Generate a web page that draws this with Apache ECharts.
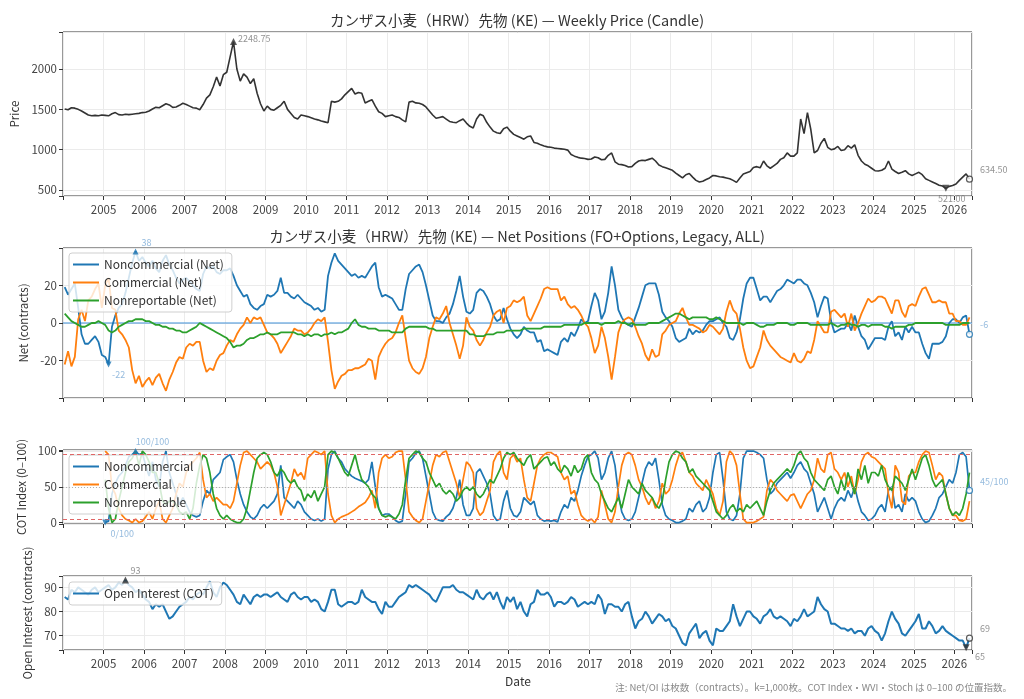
<!DOCTYPE html>
<html>
<head>
<meta charset="utf-8">
<script src="https://cdn.jsdelivr.net/npm/echarts@6/dist/echarts.min.js"></script>
<style>
  html, body { margin: 0; padding: 0; background: #fff; }
  #chart { width: 1024px; height: 699px; }
</style>
</head>
<body>
<div id="chart"></div>
<script>
// monthly samples, Jan 2004 .. May 2026
const startYear = 2004
const cotStart = 12 // COT index begins Jan 2005

const price = [
  1505, 1495, 1520, 1515, 1500, 1480, 1455, 1430, 1420, 1425, 1420, 1430,
  1425, 1420, 1445, 1460, 1435, 1430, 1440, 1435, 1440, 1445, 1450, 1460,
  1465, 1480, 1505, 1525, 1520, 1545, 1570, 1555, 1525, 1530, 1550, 1575,
  1560, 1540, 1520, 1515, 1495, 1560, 1640, 1680, 1780, 1900, 1790, 1930,
  1960, 2150, 2340, 2000, 1850, 1940, 1900, 1820, 1880, 1700, 1570, 1480,
  1540, 1500, 1490, 1520, 1550, 1600, 1500, 1450, 1400, 1380, 1430, 1420,
  1410, 1395, 1380, 1370, 1355, 1345, 1335, 1600, 1590, 1600, 1630, 1680,
  1720, 1760, 1690, 1710, 1700, 1580, 1600, 1620, 1540, 1470, 1450, 1410,
  1420, 1430, 1410, 1400, 1370, 1345, 1590, 1600, 1580, 1575, 1560, 1530,
  1480, 1430, 1390, 1400, 1410, 1380, 1350, 1340, 1335, 1360, 1380, 1330,
  1290, 1270, 1380, 1440, 1420, 1340, 1280, 1230, 1210, 1200, 1260, 1280,
  1230, 1190, 1170, 1150, 1130, 1160, 1170, 1090, 1080, 1060, 1045, 1035,
  1030, 1020, 1015, 1010, 1005, 995, 940, 920, 905, 895, 890, 880,
  885, 910, 900, 875, 880, 930, 960, 850, 820, 815, 805, 785,
  790, 830, 860, 870, 865, 880, 895, 860, 810, 790, 775, 760,
  745, 710, 680, 650, 690, 705, 660, 620, 600, 610, 630, 650,
  680, 675, 665, 660, 650, 640, 620, 595, 650, 700, 715, 730,
  780, 790, 775, 860, 800, 770, 800, 830, 880, 900, 960, 920,
  920, 960, 1380, 1200, 1460, 1250, 960, 990, 1080, 1140, 1030, 1000,
  1010, 1040, 990, 1000, 1050, 1020, 1060, 930, 860, 820, 800, 770,
  740, 735, 745, 770, 860, 760, 730, 705, 720, 740, 700, 680,
  700, 720, 690, 640, 620, 600, 580, 560, 550, 521, 545, 555,
  575, 620, 660, 700, 634.5
]
const peakCloseLabel = '2248.75'

const netNc = [
  19, 15, 18, 21, 8, -6, -11, -11, -9, -7, -10, -17,
  -18, -22, -2, 4, 8, 10, 16, 24, 32, 38, 33, 35,
  32, 30, 33, 29, 27, 33, 36, 31, 28, 24, 21, 23,
  24, 22, 20, 18, 17, 26, 30, 29, 30, 27, 26, 28,
  28, 29, 25, 20, 17, 14, 15, 10, 8, 7, 9, 10,
  15, 14, 15, 17, 24, 16, 16, 14, 13, 15, 13, 11,
  10, 9, 7, 8, 6, 7, 25, 32, 37, 33, 31, 29,
  27, 25, 26, 24, 25, 24, 27, 30, 32, 19, 14, 15,
  14, 13, 10, 7, 7, 18, 26, 28, 30, 31, 27, 20,
  12, 4, 1, 1, 0, 3, 5, 10, 17, 25, 14, 6,
  5, 7, 16, 18, 17, 14, 10, 4, 1, 2, 8, 2,
  -3, -6, -8, -6, -2, -4, -5, -5, -10, -9, -15, -14,
  -15, -16, -17, -10, -8, -10, -5, -7, -3, 2, 0, 1,
  9, 16, 12, 2, 6, 16, 30, 20, 7, 3, 0, -1,
  -2, 3, 8, 14, 20, 21, 21, 21, 15, 6, 3, 1,
  -2, -8, -10, -9, -8, -3, -6, -4, -5, -4, -1, 1,
  1, 2, 3, 0, -2, -8, -9, -5, 2, 13, 21, 24,
  24, 18, 12, 14, 14, 11, 14, 17, 18, 20, 23, 22,
  21, 23, 23, 21, 20, 16, 11, 3, 9, 14, 13, 1,
  -5, -4, -3, -3, 0, -4, 4, -2, -7, -9, -14, -11,
  -8, -8, -8, -9, -2, 1, -7, -5, -9, -2, -5, -2,
  -5, -5, -11, -16, -19, -11, -11, -11, -10, -7, 0, 2,
  2, 0, 3, 4, -6
]
const netC = [
  -22, -15, -23, -18, 2, 7, 1, 12, 14, 18, 21, 8,
  20, 24, 8, 7, -4, -6, -9, -13, -25, -32, -28, -34,
  -31, -29, -33, -29, -27, -32, -36, -30, -26, -21, -18, -19,
  -13, -11, -12, -10, -10, -20, -26, -24, -25, -20, -17, -16,
  -12, -9, -10, -6, -3, -1, 3, 0, 3, 2, 3, -1,
  -5, -6, -8, -11, -16, -13, -10, -7, -3, -4, -4, -6,
  -5, -3, 0, 2, 1, 3, -10, -25, -35, -31, -28, -27,
  -25, -25, -24, -24, -23, -22, -19, -20, -30, -18, -14, -11,
  -9, -8, -5, 0, 4, -8, -20, -24, -26, -27, -24, -18,
  -8, -2, 3, 2, 5, 9, 0, -6, -12, -19, -12, 3,
  -2, -4, -9, -12, -9, -5, -2, 4, 6, 7, 0, 8,
  9, 12, 11, 12, 14, 4, 1, 5, 9, 13, 18, 19,
  18, 18, 18, 12, 14, 10, 8, 9, 7, 4, 0, -2,
  -8, -16, -12, -2, -8, -18, -30, -18, -5, 0, 2, 3,
  2, -2, -7, -11, -17, -20, -14, -18, -17, -6, -4, -1,
  0, 1, 5, 8, 3, -1, -1, -2, -3, -5, -4, -1,
  -2, -4, -6, -3, 6, 12, 7, 5, -3, -13, -20, -24,
  -23, -18, -13, -4, -9, -12, -14, -16, -18, -19, -20, -21,
  -16, -20, -21, -19, -15, -16, -9, 1, -2, -5, -5, 6,
  7, 5, 3, 5, -2, 5, -4, 0, 5, 9, 13, 11,
  12, 14, 14, 13, 9, 5, 12, 12, 6, 3, 9, 10,
  9, 14, 18, 19, 15, 11, 11, 12, 11, 11, 5, 5,
  1, 1, -1, -1, 3
]
const netNr = [
  5, 3, 1, 0, -1, -2, -2, -1, 0, 0, 1, 0,
  -1, -4, -5, -4, -2, -1, 0, 1, 1, 2, 2, 2,
  1, 1, 0, -1, -1, -2, -2, -3, -3, -4, -4, -5,
  -5, -4, -3, -2, 0, -1, -2, -3, -4, -5, -6, -7,
  -8, -10, -13, -12, -12, -11, -9, -8, -8, -7, -6, -6,
  -5, -6, -6, -6, -5, -5, -5, -5, -5, -6, -6, -7,
  -6, -7, -6, -6, -7, -6, -6, -5, -6, -5, -5, -4,
  -3, 0, 2, -1, -2, -2, -3, -3, -3, -4, -4, -4,
  -4, -5, -5, -5, -5, -3, -2, -2, -2, -2, -2, -2,
  -3, -3, -4, -4, -4, -4, -4, -4, -4, -4, -4, -4,
  -6, -6, -7, -7, -7, -6, -6, -6, -5, -5, -5, -4,
  -4, -4, -4, -4, -3, -3, -3, -3, -3, -3, -2, -2,
  -2, -2, -2, -2, -1, -1, -1, -1, -1, -1, 0, 0,
  0, 0, 0, -1, 0, 0, 0, 0, 1, 0, 0, -1,
  0, -1, -1, -1, -1, 0, 0, 0, 0, 1, 2, 3,
  4, 5, 5, 4, 3, 2, 3, 3, 3, 3, 3, 2,
  2, 3, 2, 1, 0, 0, 0, 0, 0, -1, 0, 0,
  0, -1, -2, -2, -1, -1, -1, 0, 0, 0, 0, -1,
  -1, 0, 0, 0, 0, -1, -1, -1, -1, -1, -1, 0,
  -1, -2, -1, -1, 0, -1, -1, -2, -1, -1, -2, -1,
  -1, -1, -1, -2, -2, -3, -2, -2, -2, -2, -1, -1,
  0, 0, 0, 0, 0, 0, 0, 0, 0, -1, -1, -1,
  -1, -1, 0, 0, 0
]

// COT index (0-100), from Jan 2005
const cotNc = [
  0, 2, 40, 55, 65, 70, 80, 92, 95, 100, 95, 97,
  80, 65, 85, 60, 50, 85, 100, 70, 55, 40, 25, 35,
  25, 15, 10, 8, 10, 30, 45, 40, 60, 65, 70, 88,
  92, 95, 85, 60, 40, 25, 15, 8, 5, 10, 20, 25,
  20, 25, 30, 40, 80, 35, 30, 25, 20, 30, 25, 15,
  10, 5, 3, 5, 2, 5, 75, 95, 100, 90, 85, 75,
  70, 65, 62, 60, 58, 55, 60, 85, 50, 20, 10, 12,
  12, 8, 3, 0, 2, 40, 85, 90, 97, 100, 90, 65,
  40, 15, 5, 3, 2, 8, 12, 20, 35, 60, 25, 10,
  10, 20, 70, 75, 65, 55, 40, 10, 3, 5, 30, 45,
  20, 10, 8, 15, 35, 30, 25, 30, 10, 5, 2, 3,
  2, 3, 1, 15, 25, 20, 35, 30, 45, 65, 80, 92,
  95, 100, 90, 60, 70, 90, 100, 80, 40, 15, 5, 3,
  5, 15, 35, 55, 75, 85, 80, 90, 60, 25, 10, 5,
  3, 0, 0, 2, 5, 20, 15, 25, 30, 15, 20, 35,
  70, 95, 98, 60, 15, 5, 3, 10, 40, 90, 100, 100,
  100, 98, 95, 90, 60, 40, 45, 55, 60, 65, 70, 62,
  70, 80, 85, 75, 70, 55, 40, 15, 25, 35, 20, 5,
  20, 30, 35, 30, 45, 35, 50, 30, 15, 10, 3, 5,
  10, 20, 25, 15, 45, 50, 20, 25, 15, 40, 30, 35,
  30, 15, 5, 0, 2, 10, 20, 35, 40, 50, 60, 55,
  70, 95, 98, 92, 45
]
const cotC = [
  100, 95, 50, 40, 20, 10, 5, 3, 0, 5, 0, 2,
  8, 15, 5, 20, 30, 5, 0, 10, 20, 40, 55, 50,
  70, 80, 85, 90, 98, 60, 35, 40, 30, 35, 30, 25,
  25, 20, 30, 55, 80, 98, 100, 95, 90, 85, 75, 80,
  85, 80, 70, 50, 10, 25, 40, 55, 75, 65, 70, 60,
  90, 95, 100, 98, 95, 100, 40, 10, 0, 5, 8, 10,
  12, 15, 18, 22, 25, 28, 35, 45, 20, 70, 90, 95,
  90, 92, 98, 100, 100, 60, 15, 8, 3, 0, 5, 30,
  55, 80, 95, 92, 98, 100, 85, 70, 55, 35, 60, 85,
  80, 70, 20, 10, 15, 30, 45, 85, 95, 100, 70, 60,
  90, 95, 85, 90, 60, 35, 30, 55, 80, 90, 95, 98,
  98, 95, 92, 70, 60, 65, 40, 45, 25, 10, 5, 2,
  5, 0, 8, 45, 25, 5, 0, 15, 50, 80, 95, 98,
  95, 80, 60, 50, 35, 25, 35, 20, 30, 55, 40, 45,
  60, 80, 95, 98, 85, 70, 65, 55, 50, 45, 60, 50,
  40, 20, 10, 30, 85, 100, 95, 80, 40, 5, 0, 0,
  0, 2, 5, 8, 45, 60, 55, 45, 40, 35, 30, 38,
  40, 30, 20, 30, 40, 45, 60, 90, 75, 70, 95, 98,
  75, 70, 60, 70, 50, 65, 40, 60, 85, 95, 98, 92,
  90, 85, 80, 75, 40, 20, 80, 70, 30, 25, 65, 70,
  70, 85, 95, 100, 98, 80, 60, 70, 65, 40, 20, 10,
  10, 3, 2, 5, 30
]
const cotNr = [
  60, 20, 0, 5, 30, 50, 70, 85, 90, 100, 80, 100,
  95, 85, 70, 70, 55, 30, 25, 30, 30, 25, 15, 12,
  15, 5, 20, 55, 80, 95, 90, 70, 40, 20, 10, 5,
  10, 5, 2, 0, 0, 5, 20, 45, 70, 90, 95, 98,
  95, 85, 70, 65, 75, 70, 60, 55, 60, 50, 45, 30,
  40, 35, 45, 30, 40, 50, 95, 100, 98, 90, 80, 70,
  65, 80, 95, 75, 60, 55, 50, 40, 35, 20, 10, 8,
  10, 8, 5, 12, 25, 60, 90, 95, 100, 98, 90, 85,
  70, 60, 50, 55, 45, 40, 45, 40, 30, 35, 45, 50,
  45, 50, 40, 35, 40, 50, 60, 55, 65, 75, 90, 98,
  95, 98, 90, 85, 80, 90, 95, 75, 80, 85, 90, 92,
  80, 85, 75, 70, 80, 75, 65, 80, 70, 75, 90, 95,
  70, 60, 55, 40, 30, 20, 15, 25, 35, 20, 40, 60,
  50, 45, 40, 55, 45, 40, 35, 25, 20, 30, 60, 85,
  95, 100, 98, 90, 85, 70, 75, 65, 60, 55, 50, 45,
  30, 15, 10, 5, 10, 20, 25, 15, 20, 15, 25, 20,
  25, 30, 20, 10, 30, 45, 55, 60, 65, 70, 75, 70,
  80, 95, 100, 90, 85, 70, 60, 55, 50, 45, 60, 65,
  50, 40, 60, 45, 70, 55, 40, 75, 60, 80, 55, 70,
  70, 65, 80, 60, 50, 45, 65, 60, 55, 45, 60, 75,
  60, 75, 90, 95, 80, 60, 50, 55, 60, 40, 20, 10,
  15, 10, 20, 40, 70
]

// open interest, thousand contracts
const openInt = [
  86, 85, 89, 88, 90, 89, 88, 87, 89, 90, 88, 89,
  90, 91, 89, 90, 92, 91, 93, 91, 90, 88, 89, 87,
  85, 84, 81, 83, 82, 83, 80, 77, 78, 80, 82, 83,
  84, 86, 85, 87, 88, 87, 90, 92.5, 88, 86, 90, 92,
  91, 89, 87, 84, 83, 87, 85, 83, 86, 87, 86, 87,
  87, 86, 87, 88, 86, 85, 84, 87, 88, 86, 85, 86,
  86, 84, 85, 84, 81, 80, 84, 89, 89, 83, 82, 83,
  84, 84, 83, 84, 89, 86, 85, 84, 84, 81, 79, 84,
  82, 82, 84, 86, 87, 88, 91, 90, 91, 90, 89, 88,
  87, 85, 84, 87, 90, 90, 90, 91, 89, 88, 88, 87,
  86, 85, 89, 86, 85, 87, 88, 85, 88, 84, 81, 86,
  84, 86, 81, 84, 80, 78, 83, 84, 89, 87, 87, 88,
  86, 82, 84, 84, 83, 84, 86, 85, 82, 83, 84, 83,
  84, 83, 87, 85, 79, 83, 83, 82, 82, 80, 83, 84,
  78, 73, 76, 77, 80, 78, 75, 77, 79, 78, 76, 77,
  74, 73, 70, 67, 66, 71, 73, 75, 69, 71, 72, 68,
  66, 73, 72, 72, 74, 76, 83, 78, 74, 77, 80, 80,
  78, 77, 75, 78, 79, 81, 78, 77, 78, 77, 76, 74,
  77, 76, 78, 81, 78, 79, 80, 86, 83, 81, 80, 75,
  75, 74, 73, 73, 72, 73, 71, 72, 72, 70, 73, 74,
  72, 71, 68, 71, 76, 80, 77, 75, 71, 70, 72, 74,
  76, 79, 73, 73, 76, 74, 71, 72, 74, 72, 71, 70,
  69, 68, 68, 65, 69
]

const FONT = '"Noto Sans CJK JP", "Noto Sans", sans-serif'
const C_NC = '#1f77b4'
const C_C = '#ff7f0e'
const C_NR = '#2ca02c'
const LBL_BLUE = '#7aaad6'
const LBL_GRAY = '#777'

const xs = price.map((_, i) => startYear + (i + 0.5) / 12)
const xMax = 2026.437
const pairs = (arr, off = 0) => arr.map((v, i) => [xs[i + off], v])
const argMax = arr => arr.reduce((k, v, i) => (v > arr[k] ? i : k), 0)
const argMin = arr => arr.reduce((k, v, i) => (v < arr[k] ? i : k), 0)

const grids = [
  { left: 63, right: 52, top: 32, height: 164 },
  { left: 63, right: 52, top: 248, height: 150 },
  { left: 63, right: 52, top: 450, height: 74 },
  { left: 63, right: 52, top: 576, height: 74 },
]

function xAxisFor(i, showLabel) {
  return {
    gridIndex: i,
    type: 'value',
    min: startYear,
    max: xMax,
    interval: 1,
    axisLine: { show: false, onZero: false, lineStyle: { color: 'rgba(0,0,0,0)', width: 0 } },
    axisTick: { show: true, length: 4, lineStyle: { color: '#333' } },
    axisLabel: {
      show: showLabel,
      color: '#444',
      fontSize: 11.5,
      fontFamily: FONT,
      margin: 8,
      formatter: v => (Number.isInteger(v) && v > startYear ? String(v) : ''),
    },
    splitLine: { show: true, lineStyle: { color: '#ebebeb', width: 1 } },
  }
}

function yAxisFor(i, min, max, split, step, name, gap) {
  return {
    gridIndex: i,
    type: 'value',
    min: min,
    max: max,
    splitNumber: split,
    name: name,
    nameLocation: 'middle',
    nameGap: gap,
    nameTextStyle: { color: '#333', fontSize: 11.5, fontFamily: FONT },
    axisLine: { show: false, onZero: false },
    axisTick: { show: true, length: 4, lineStyle: { color: '#333' } },
    axisLabel: {
      color: '#444',
      fontSize: 11.5,
      fontFamily: FONT,
      margin: 6,
      formatter: v => (Math.abs(v / step - Math.round(v / step)) < 1e-6 ? String(v) : ''),
    },
    splitLine: { show: true, lineStyle: { color: '#ebebeb', width: 1 } },
  }
}

function line(name, gi, data, color, width) {
  return {
    name: name,
    type: 'line',
    xAxisIndex: gi,
    yAxisIndex: gi,
    data: data,
    showSymbol: false,
    symbol: 'none',
    lineStyle: { color: color, width: width },
    itemStyle: { color: color },
    z: 3,
  }
}

function marker(gi, idx, y, o) {
  return {
    type: 'scatter',
    xAxisIndex: gi,
    yAxisIndex: gi,
    silent: true,
    clip: false,
    z: 6,
    symbol: o.symbol,
    symbolSize: o.size || 7,
    symbolRotate: o.rotate || 0,
    itemStyle: o.hollow
      ? { color: '#fff', borderColor: o.color, borderWidth: 1.2 }
      : { color: o.color },
    label: {
      show: true,
      formatter: o.text,
      position: o.pos,
      offset: o.offset,
      color: o.labelColor,
      fontSize: 9,
      fontFamily: FONT,
    },
    data: [[xs[idx], y]],
  }
}

function legendAt(top, names) {
  return {
    data: names,
    orient: 'vertical',
    left: 69,
    top: top,
    icon: 'rect',
    itemWidth: 26,
    itemHeight: 2,
    itemGap: 5,
    padding: [5, 8, 5, 4],
    backgroundColor: 'rgba(255,255,255,0.8)',
    borderColor: '#cfcfcf',
    borderWidth: 1,
    borderRadius: 3,
    textStyle: { color: '#333', fontSize: 12, fontFamily: FONT, lineHeight: 13 },
  }
}

const last = price.length - 1
const iPxMax = argMax(price)
const iPxMin = argMin(price)
const iNetMax = argMax(netNc)
const iNetMin = argMin(netNc)
const iCotMax = argMax(cotNc)
const iCotMin = argMin(cotNc)
const iOiMax = argMax(openInt)
const iOiMin = argMin(openInt)
const cotLast = cotNc.length - 1

const option = {
  animation: false,
  backgroundColor: '#fff',
  textStyle: { fontFamily: FONT },
  grid: grids.map(g => Object.assign({ show: true, borderColor: '#333', borderWidth: 1, backgroundColor: '#fff' }, g)),
  xAxis: [xAxisFor(0, true), xAxisFor(1, false), xAxisFor(2, false), xAxisFor(3, true)],
  yAxis: [
    yAxisFor(0, 426, 2459, 4, 500, 'Price', 33),
    yAxisFor(1, -39.8, 39.8, 4, 20, 'Net (contracts)', 26),
    yAxisFor(2, -2, 101.5, 2, 50, 'COT Index (0–100)', 25),
    yAxisFor(3, 64.1, 94.7, 3, 10, 'Open Interest (contracts)', 21),
  ],
  legend: [
    legendAt(253, ['Noncommercial (Net)', 'Commercial (Net)', 'Nonreportable (Net)']),
    legendAt(455, ['Noncommercial', 'Commercial', 'Nonreportable']),
    legendAt(582, ['Open Interest (COT)']),
  ],
  graphic: [
    {
      type: 'text', x: 517, y: 20,
      style: { text: 'カンザス小麦（HRW）先物 (KE) — Weekly Price (Candle)', fill: '#333', font: '14.5px ' + FONT, align: 'center', verticalAlign: 'middle' },
    },
    {
      type: 'text', x: 517, y: 236,
      style: { text: 'カンザス小麦（HRW）先物 (KE) — Net Positions (FO+Options, Legacy, ALL)', fill: '#333', font: '14.5px ' + FONT, align: 'center', verticalAlign: 'middle' },
    },
    {
      type: 'text', x: 518, y: 681,
      style: { text: 'Date', fill: '#333', font: '12px ' + FONT, align: 'center', verticalAlign: 'middle' },
    },
    {
      type: 'text', x: 1012, y: 687,
      style: { text: '注: Net/OI は枚数（contracts）。k=1,000枚。COT Index・WVI・Stoch は 0–100 の位置指数。', fill: '#888', font: '9.5px ' + FONT, align: 'right', verticalAlign: 'middle' },
    },
  ],
  series: [
    line('Price', 0, pairs(price), '#333', 1.6),

    // zero reference line of the net panel
    {
      type: 'line',
      xAxisIndex: 1,
      yAxisIndex: 1,
      silent: true,
      symbol: 'none',
      z: 2,
      lineStyle: { color: '#3f8fd8', width: 1.2 },
      data: [[startYear, 0], [xMax, 0]],
    },
    line('Noncommercial (Net)', 1, pairs(netNc), C_NC, 1.8),
    line('Commercial (Net)', 1, pairs(netC), C_C, 1.8),
    line('Nonreportable (Net)', 1, pairs(netNr), C_NR, 1.8),

    Object.assign(line('Noncommercial', 2, pairs(cotNc, cotStart), C_NC, 1.7), {
      markLine: {
        silent: true,
        symbol: 'none',
        label: { show: false },
        data: [
          { yAxis: 95, lineStyle: { color: '#e06666', width: 1, type: [4, 3] } },
          { yAxis: 5, lineStyle: { color: '#e06666', width: 1, type: [4, 3] } },
          { yAxis: 50, lineStyle: { color: '#b0b0b0', width: 1, type: [1, 2] } },
        ],
      },
    }),
    line('Commercial', 2, pairs(cotC, cotStart), C_C, 1.7),
    line('Nonreportable', 2, pairs(cotNr, cotStart), C_NR, 1.7),

    line('Open Interest (COT)', 3, pairs(openInt), C_NC, 2),

    marker(0, iPxMax, price[iPxMax], { symbol: 'triangle', color: '#333', text: peakCloseLabel, pos: 'right', offset: [-4, -3], labelColor: LBL_GRAY }),
    marker(0, iPxMin, price[iPxMin], { symbol: 'triangle', rotate: 180, color: '#333', text: price[iPxMin].toFixed(2), pos: 'bottom', offset: [6, -3], labelColor: LBL_GRAY }),
    marker(0, last, price[last], { symbol: 'circle', size: 6, hollow: true, color: '#333', text: price[last].toFixed(2), pos: 'right', offset: [2, -10], labelColor: LBL_GRAY }),

    marker(1, iNetMax, netNc[iNetMax], { symbol: 'triangle', size: 6, color: C_NC, text: String(netNc[iNetMax]), pos: 'top', offset: [11, 4], labelColor: LBL_BLUE }),
    marker(1, iNetMin, netNc[iNetMin], { symbol: 'triangle', size: 6, rotate: 180, color: C_NC, text: String(netNc[iNetMin]), pos: 'bottom', offset: [10, -2], labelColor: LBL_BLUE }),
    marker(1, last, netNc[last], { symbol: 'circle', size: 6, hollow: true, color: C_NC, text: String(netNc[last]), pos: 'right', offset: [2, -10], labelColor: LBL_BLUE }),

    marker(2, iCotMax + cotStart, cotNc[iCotMax], { symbol: 'triangle', size: 6, color: C_NC, text: cotNc[iCotMax] + '/100', pos: 'top', offset: [17, 3], labelColor: LBL_BLUE }),
    marker(2, iCotMin + cotStart, cotNc[iCotMin], { symbol: 'triangle', size: 6, rotate: 180, color: C_NC, text: cotNc[iCotMin] + '/100', pos: 'bottom', offset: [17, -1], labelColor: LBL_BLUE }),
    marker(2, cotLast + cotStart, cotNc[cotLast], { symbol: 'circle', size: 6, hollow: true, color: C_NC, text: cotNc[cotLast] + '/100', pos: 'right', offset: [2, -9], labelColor: LBL_BLUE }),

    marker(3, iOiMax, openInt[iOiMax], { symbol: 'triangle', color: '#333', text: String(openInt[iOiMax]), pos: 'top', offset: [10, 3], labelColor: LBL_GRAY }),
    marker(3, iOiMin, openInt[iOiMin], { symbol: 'triangle', rotate: 180, color: '#333', text: String(openInt[iOiMin]), pos: 'bottom', offset: [14, -4], labelColor: LBL_GRAY }),
    marker(3, last, openInt[last], { symbol: 'circle', size: 6, hollow: true, color: '#333', text: String(openInt[last]), pos: 'right', offset: [2, -10], labelColor: LBL_GRAY }),
  ],
}

const chart = echarts.init(document.getElementById('chart'))
chart.setOption(option)
</script>
</body>
</html>
